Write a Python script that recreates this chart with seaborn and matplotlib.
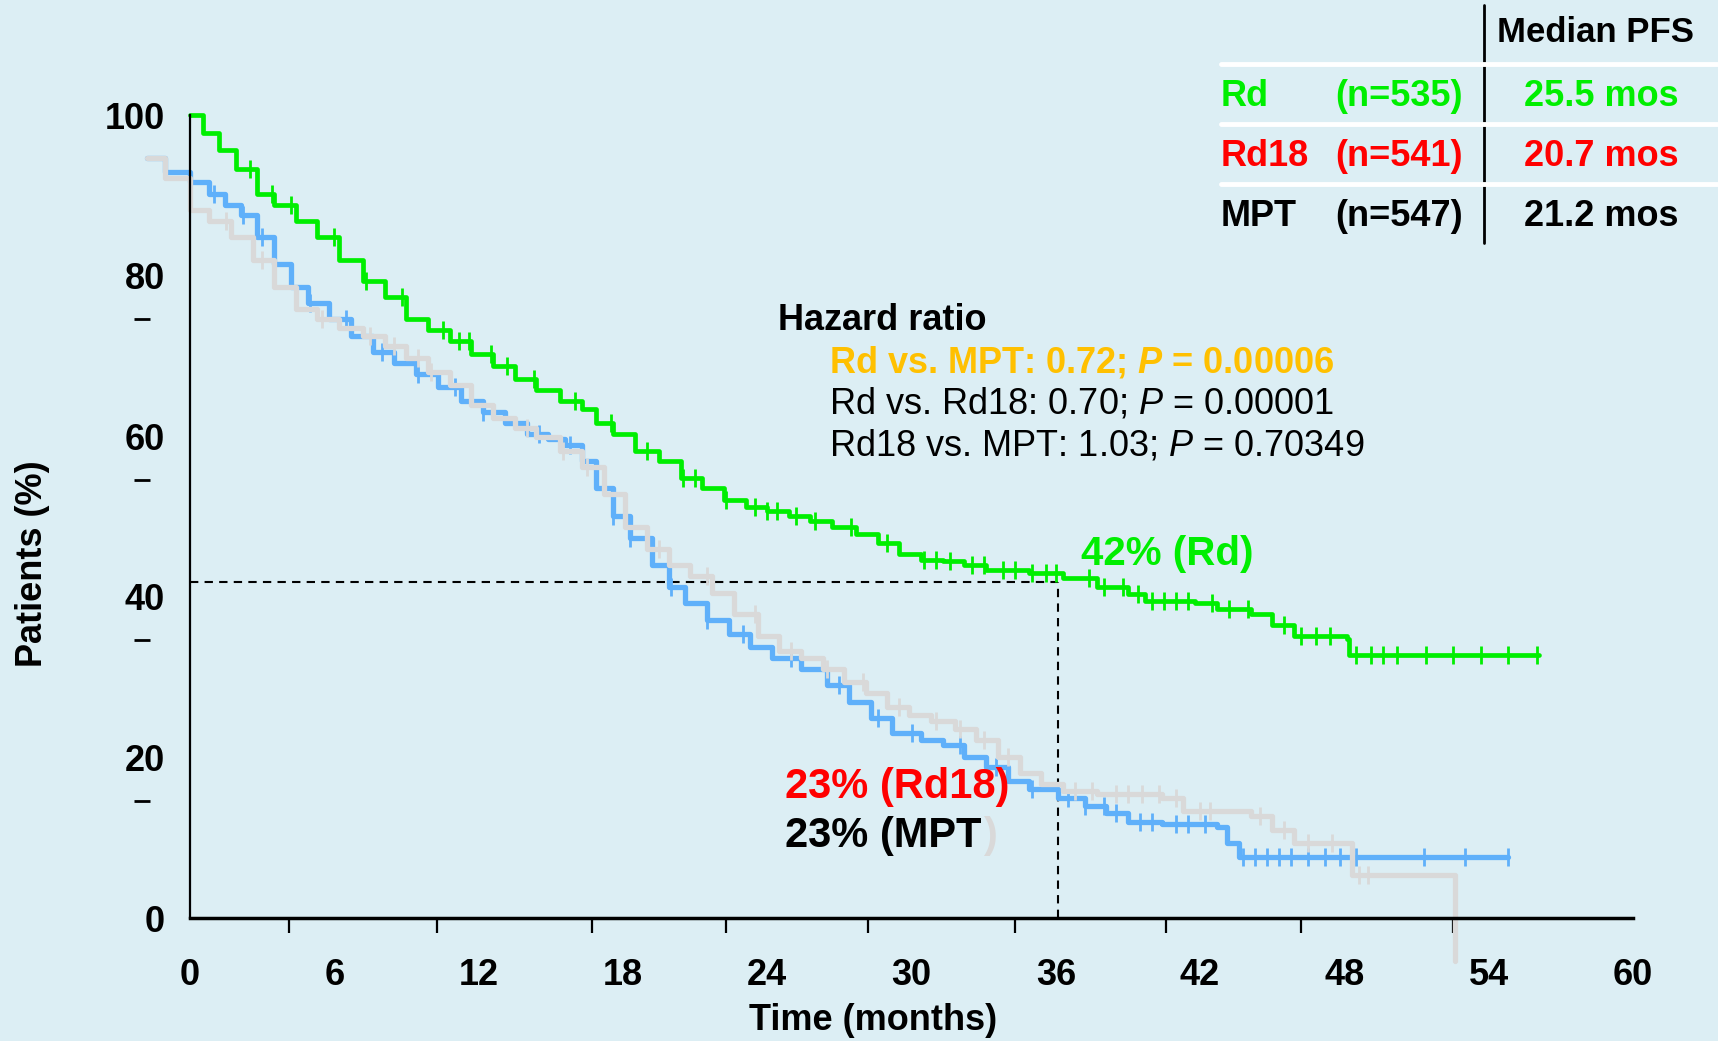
import numpy as np
import pandas as pd
import matplotlib
matplotlib.use("Agg")
import matplotlib.pyplot as plt
import seaborn as sns

# Kaplan-Meier steps (months, % patients)
rd_t = [0, 0.55, 1.2, 1.9, 2.8, 3.5, 4.4, 5.3, 6.2, 7.2, 8.1, 9.0, 9.9, 10.8, 11.7, 12.6,
        13.5, 14.4, 15.4, 16.3, 16.9, 17.6, 18.5, 19.5, 20.4, 21.3, 22.2, 23.1, 24.0, 24.9,
        25.8, 26.7, 27.7, 28.6, 29.5, 30.4, 31.3, 32.2, 33.1, 34.9, 36.3, 37.7, 39.0, 39.7,
        41.8, 42.7, 44.1, 45.0, 45.9, 48.1, 48.2, 56.1]
rd_p = [100, 97.7, 95.6, 93.3, 90.2, 88.8, 86.8, 84.8, 82.0, 79.3, 77.3, 74.6, 73.2, 71.8, 70.2, 68.8,
        67.1, 65.7, 64.4, 63.4, 61.6, 60.3, 58.2, 56.9, 54.8, 53.5, 52.1, 51.2, 50.7, 50.1,
        49.4, 48.7, 47.8, 46.7, 45.3, 44.6, 44.4, 43.9, 43.3, 43.0, 42.3, 41.2, 40.4, 39.5,
        39.2, 38.5, 37.8, 36.5, 35.1, 34.8, 32.7, 32.7]

rd18_t = [-1.8, -1.05, 0, 0.77, 1.46, 2.1, 2.8, 3.5, 4.2, 4.9, 5.8, 6.7, 7.6, 8.5, 9.4, 10.3,
          11.25, 12.2, 13.1, 14.0, 14.9, 15.6, 16.3, 16.9, 17.6, 18.3, 19.2, 19.9, 20.6, 21.5,
          22.4, 23.3, 24.2, 25.4, 26.5, 27.4, 28.3, 29.2, 30.4, 31.3, 32.2, 33.1, 34.0, 34.9,
          36.1, 37.2, 38.1, 39.0, 40.4, 42.7, 43.1, 43.6, 54.8]
rd18_p = [94.6, 92.9, 91.6, 90.2, 88.8, 87.5, 84.8, 81.4, 78.6, 76.6, 74.6, 72.5, 70.5, 69.1, 67.8, 66.1,
          64.4, 63.0, 61.6, 60.3, 59.6, 58.9, 56.9, 53.5, 50.1, 47.3, 43.9, 41.2, 39.2, 37.1,
          35.4, 33.7, 32.4, 31.0, 29.0, 26.9, 24.9, 23.1, 22.2, 21.5, 20.1, 18.8, 17.1, 16.1,
          15.0, 14.0, 13.1, 12.0, 11.7, 11.3, 9.3, 7.6, 7.6]

mpt_t = [-1.8, -1.05, 0, 0.77, 1.7, 2.6, 3.5, 4.4, 5.3, 6.2, 7.2, 8.1, 9.0, 9.9, 10.8, 11.7,
         12.6, 13.5, 14.4, 15.4, 16.3, 17.2, 18.1, 19.0, 19.9, 20.8, 21.7, 22.6, 23.6, 24.5,
         25.4, 26.3, 27.2, 28.1, 29.0, 29.9, 30.8, 31.8, 32.7, 33.6, 34.5, 35.4, 36.3, 37.7,
         40.4, 41.3, 44.1, 45.0, 45.9, 48.2, 48.3, 52.6, 52.6]
mpt_p = [94.6, 92.2, 88.2, 86.8, 84.8, 82.0, 78.6, 75.9, 74.6, 73.5, 72.5, 71.2, 69.8, 68.0, 66.4, 63.9,
         62.3, 61.0, 59.9, 58.2, 56.2, 52.8, 48.7, 46.0, 43.9, 42.6, 40.5, 37.8, 35.1, 33.3,
         32.4, 31.0, 29.4, 28.0, 26.3, 25.3, 24.5, 23.5, 22.2, 20.1, 18.1, 16.7, 15.8, 15.4,
         15.0, 13.3, 12.7, 10.9, 9.3, 9.3, 5.4, 5.4, -5.4]

# censoring marks (months)
rd_cens = [2.5, 3.4, 4.2, 6.0, 7.3, 8.8, 10.5, 11.2, 11.6, 12.5, 13.2, 14.3, 16.0, 17.5, 19.0,
           20.5, 21.0, 22.3, 23.5, 24.0, 24.4, 25.2, 26.0, 27.5, 29.0, 30.5, 31.0, 31.6, 32.5,
           33.0, 33.8, 34.3, 35.0, 35.6, 36.0, 37.4, 38.0, 38.8, 39.4, 40.0, 40.5, 41.0, 41.5,
           42.5, 43.2, 44.0, 45.5, 46.2, 46.8, 47.4, 48.5, 49.1, 49.6, 50.2, 51.4, 52.5, 53.7,
           54.8, 56.0]
rd18_cens = [1.0, 2.2, 3.0, 5.0, 6.5, 8.0, 9.5, 11.0, 12.2, 14.5, 15.8, 17.6, 18.3, 20.0, 21.5,
             23.0, 25.0, 27.0, 28.6, 30.0, 32.0, 33.5, 35.0, 36.5, 37.2, 38.0, 38.5, 39.5, 40.0,
             41.0, 41.5, 42.2, 43.8, 44.3, 44.8, 45.3, 45.8, 46.5, 47.2, 47.8, 48.5, 51.3, 53.0,
             54.8]
mpt_cens = [1.5, 3.0, 5.5, 7.5, 8.5, 9.5, 10.0, 14.0, 15.5, 16.5, 19.5, 21.5, 23.5, 25.0, 26.5,
            28.0, 29.5, 31.0, 32.0, 33.0, 34.0, 36.8, 37.5, 38.5, 39.0, 39.6, 40.3, 41.0, 42.0,
            42.4, 44.5, 45.5, 46.5, 47.5, 48.6, 49.0]

arms = ["Rd", "Rd18", "MPT"]
n_pts = ["(n=535)", "(n=541)", "(n=547)"]
medians = ["25.5 mos", "20.7 mos", "21.2 mos"]
hr_lines = ["Rd vs. MPT: 0.72; $\\mathbfit{P}$ = 0.00006",
            "Rd vs. Rd18: 0.70; $\\mathit{P}$ = 0.00001",
            "Rd18 vs. MPT: 1.03; $\\mathit{P}$ = 0.70349"]
landmark_t = 36.1
landmark_p = 41.8

BG = "#dceef4"
GREEN = "#00ee00"
BLUE = "#5fb0fa"
GRAY = "#d9d9d9"
RED = "#ff0000"
ORANGE = "#ffc000"


def step_value(t_arr, p_arr, t):
    idx = np.searchsorted(t_arr, t, side="right") - 1
    return p_arr[max(idx, 0)]


sns.set_theme(style="white", rc={"text.color": "black", "xtick.color": "black",
                                 "ytick.color": "black", "axes.labelcolor": "black"})
plt.rcParams["font.family"] = ["Liberation Sans", "DejaVu Sans"]
plt.rcParams["mathtext.fontset"] = "custom"
plt.rcParams["mathtext.rm"] = "Liberation Sans"
plt.rcParams["mathtext.it"] = "Liberation Sans:italic"
plt.rcParams["mathtext.bfit"] = "Liberation Sans:italic:bold"

W, H = 1718, 1041
fig = plt.figure(figsize=(W / 100, H / 100), dpi=100)
fig.patch.set_facecolor(BG)

# axes placed so that month 0 -> x=190px, month 60 -> 1633px, 0% -> y=918px, 100% -> 115px
x_lo, x_hi = -5, 62
y_lo, y_hi = -8, 103
pxm = (1633 - 190) / 60
pyp = (918 - 115) / 100
left = 190 - (0 - x_lo) * pxm
bottom = 918 + (0 - y_lo) * pyp
ax = fig.add_axes([left / W, 1 - bottom / H, (x_hi - x_lo) * pxm / W, (y_hi - y_lo) * pyp / H])
ax.set_facecolor(BG)
ax.set_xlim(x_lo, x_hi)
ax.set_ylim(y_lo, y_hi)

curves = pd.concat([
    pd.DataFrame({"month": rd18_t, "pct": rd18_p, "arm": "Rd18"}),
    pd.DataFrame({"month": mpt_t, "pct": mpt_p, "arm": "MPT"}),
    pd.DataFrame({"month": rd_t, "pct": rd_p, "arm": "Rd"}),
])
palette = {"Rd": GREEN, "Rd18": BLUE, "MPT": GRAY}
widths = {"Rd": 3.4, "Rd18": 3.8, "MPT": 3.8}
cens = {"Rd": (rd_t, rd_p, rd_cens), "Rd18": (rd18_t, rd18_p, rd18_cens), "MPT": (mpt_t, mpt_p, mpt_cens)}

for i, arm in enumerate(["Rd18", "MPT", "Rd"]):
    sub = curves[curves["arm"] == arm]
    sns.lineplot(data=sub, x="month", y="pct", color=palette[arm], lw=widths[arm],
                 drawstyle="steps-post", estimator=None, sort=False, legend=False,
                 ax=ax, zorder=3 + i, clip_on=False)
    t_arr, p_arr, c_t = cens[arm]
    c_p = [step_value(t_arr, p_arr, t) for t in c_t]
    sns.scatterplot(x=c_t, y=c_p, marker="|", s=170, linewidth=2.0, color=palette[arm],
                    ax=ax, zorder=3 + i, legend=False)

# landmark dashed lines
ax.plot([0, landmark_t], [landmark_p, landmark_p], ls=(0, (4, 3)), color="black", lw=1.5, zorder=2)
ax.plot([landmark_t, landmark_t], [0, landmark_p], ls=(0, (4, 3)), color="black", lw=1.5, zorder=2)

# spines
for s in ["top", "right"]:
    ax.spines[s].set_visible(False)
ax.spines["left"].set_position(("data", 0))
ax.spines["left"].set_bounds(0, 100)
ax.spines["left"].set_linewidth(1.6)
ax.spines["bottom"].set_position(("data", 0))
ax.spines["bottom"].set_bounds(0, 60)
ax.spines["bottom"].set_linewidth(2.5)
for s in ["left", "bottom"]:
    ax.spines[s].set_color("black")
    ax.spines[s].set_zorder(10)

# ticks (the original tick marks sit a bit off their labels)
ax.tick_params(which="both", bottom=True, left=True, top=False, right=False)
ax.set_xticks(range(0, 61, 6))
ax.set_xticklabels([str(v) for v in range(0, 61, 6)], fontsize=26, fontweight="bold")
ax.set_xticks([0, 4.1, 10.25, 16.7, 22.3, 28.2, 34.3, 40.6, 46.2, 52.5, 60], minor=True)
ax.tick_params(axis="x", which="major", length=0, pad=29)
ax.tick_params(axis="x", which="minor", length=11, width=1.6, color="black", direction="out")
ax.set_yticks(range(0, 101, 20))
ax.set_yticklabels([str(v) for v in range(0, 101, 20)], fontsize=26, fontweight="bold")
ax.set_yticks([0, 100], minor=True)
ax.tick_params(axis="y", which="major", length=0, pad=18)
ax.tick_params(axis="y", which="minor", length=9, width=2, color="black", direction="out")
ax.plot([-2.0] * 4, [74.6, 54.6, 34.6, 14.6], ls="none", marker="_", ms=11, mew=2,
        color="black", clip_on=False)
ax.set_xlabel("")
ax.set_ylabel("")

fig.text(33 / W, 1 - 564 / H, "Patients (%)", rotation=90, ha="center", va="center",
         fontsize=26, fontweight="bold")
fig.text(873 / W, 1 - 1021 / H, "Time (months)", ha="center", va="center",
         fontsize=26, fontweight="bold")

# hazard ratio block
fig.text(778 / W, 1 - 320 / H, "Hazard ratio", ha="left", va="center", fontsize=26, fontweight="bold")
fig.text(829 / W, 1 - 362 / H, hr_lines[0], ha="left", va="center", fontsize=26,
         fontweight="bold", color=ORANGE)
fig.text(829 / W, 1 - 404 / H, hr_lines[1], ha="left", va="center", fontsize=26)
fig.text(829 / W, 1 - 446 / H, hr_lines[2], ha="left", va="center", fontsize=26)

# landmark annotations
fig.text(1081 / W, 1 - 554 / H, "42% (Rd)", ha="left", va="center", fontsize=29,
         fontweight="bold", color=GREEN, zorder=20)
fig.text(785 / W, 1 - 787 / H, "23% (Rd18)", ha="left", va="center", fontsize=30,
         fontweight="bold", color=RED, zorder=20)
t_mpt = fig.text(785 / W, 1 - 836 / H, "23% (MPT", ha="left", va="center", fontsize=30,
                 fontweight="bold", color="black", zorder=20)
fig.canvas.draw()
bb = t_mpt.get_window_extent()
fig.text(bb.x1 / W + 2 / W, 1 - 836 / H, ")", ha="left", va="center", fontsize=30,
         fontweight="bold", color=GRAY, zorder=20)

# median PFS table
row_colors = [GREEN, RED, "black"]
row_y = [97, 157, 217]
fig.text(1497 / W, 1 - 33 / H, "Median PFS", ha="left", va="center", fontsize=25, fontweight="bold")
for arm, n, med, c, y in zip(arms, n_pts, medians, row_colors, row_y):
    fig.text(1221 / W, 1 - y / H, arm, ha="left", va="center", fontsize=26, fontweight="bold", color=c)
    fig.text(1335 / W, 1 - y / H, n, ha="left", va="center", fontsize=26, fontweight="bold", color=c)
    fig.text(1601 / W, 1 - y / H, med, ha="center", va="center", fontsize=26, fontweight="bold", color=c)
fig.add_artist(plt.Line2D([1484 / W, 1484 / W], [1 - 5 / H, 1 - 243 / H], color="black", lw=2))
for y in [64, 124, 184]:
    fig.add_artist(plt.Line2D([1221 / W, 1], [1 - y / H, 1 - y / H], color="white", lw=3.5))

fig.savefig("out.png", dpi=100, facecolor=BG)
